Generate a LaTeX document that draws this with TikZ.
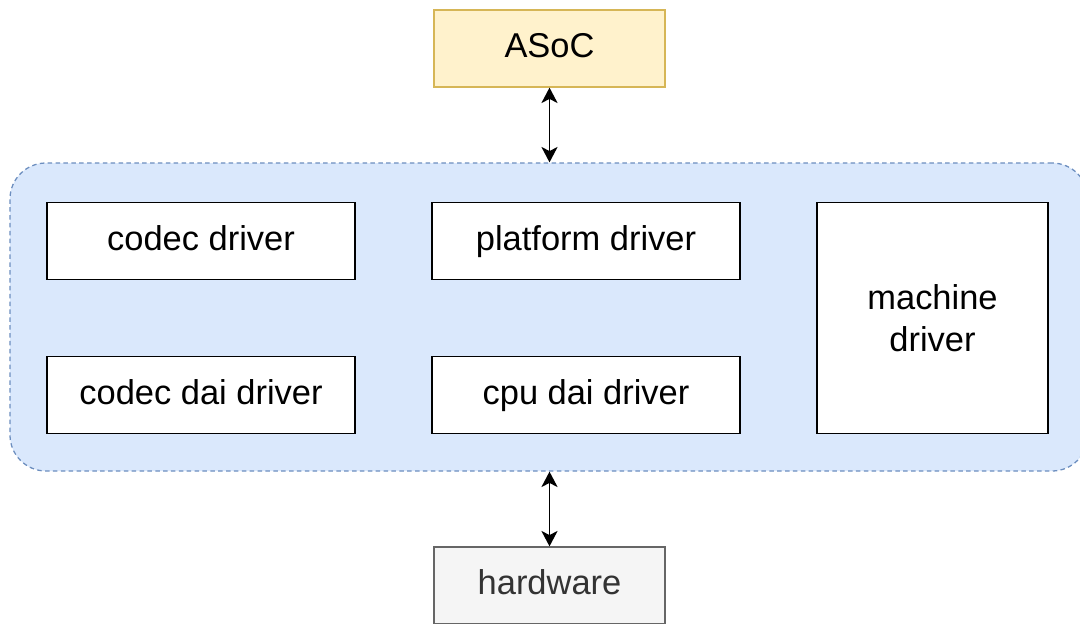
\documentclass[tikz,border=0pt]{standalone}
\usepackage{fontspec}
\setmainfont{Liberation Sans}
\usepackage{tikz}
\usetikzlibrary{arrows.meta}

\definecolor{asocfill}{HTML}{FFF2CC}
\definecolor{asocline}{HTML}{D6B656}
\definecolor{corefill}{HTML}{DAE8FC}
\definecolor{coreline}{HTML}{6C8EBF}
\definecolor{hwfill}{HTML}{F5F5F5}
\definecolor{hwline}{HTML}{666666}
\definecolor{hwtext}{HTML}{333333}

\begin{document}
\begin{tikzpicture}[>={Stealth[length=11pt,width=11.5pt,inset=3pt]},
	font=\fontsize{24.5}{30}\selectfont,
	link/.style={<->,draw=black,line width=1.3pt},
	drvnode/.style={rectangle,draw=black,fill=white,line width=0.9pt,minimum width=7.7cm,minimum height=1.925cm,inner sep=0pt,text height=18pt,text depth=5pt},
	topnode/.style={drvnode,draw=asocline,fill=asocfill,minimum width=5.775cm},
	hwnode/.style={drvnode,draw=hwline,fill=hwfill,text=hwtext,minimum width=5.775cm},
	groupnode/.style={rectangle,rounded corners=0.9cm,draw=coreline,fill=corefill,dash pattern=on 3.2pt off 2.4pt,line width=0.9pt,minimum width=26.95cm,minimum height=7.7cm,inner sep=0pt}]

	\useasboundingbox (0,0) rectangle (27,15.575);
	\clip (0,0) rectangle (27,15.575);

	\node [topnode] (asoc) at (13.7375, 14.3625) {ASoC};
	\node [groupnode] (core) at (13.725, 7.65) {};
	\node [drvnode] (codec) at (5.025, 9.55) {codec driver};
	\node [drvnode] (platform) at (14.65, 9.55) {platform driver};
	\node [drvnode] (codecdai) at (5.025, 5.7) {codec dai driver};
	\node [drvnode] (cpudai) at (14.65, 5.7) {cpu dai driver};
	\node [drvnode, minimum width=5.775cm, minimum height=5.775cm, text height=, text depth=, align=center] (machine) at (23.3125, 7.625) {machine\\driver};
	\node [hwnode] (hw) at (13.7375, 0.9375) {hardware};

	\draw [link] (asoc.south) to (asoc.south |- core.north);
	\draw [link] (hw.north) to (hw.north |- core.south);
\end{tikzpicture}
\end{document}
